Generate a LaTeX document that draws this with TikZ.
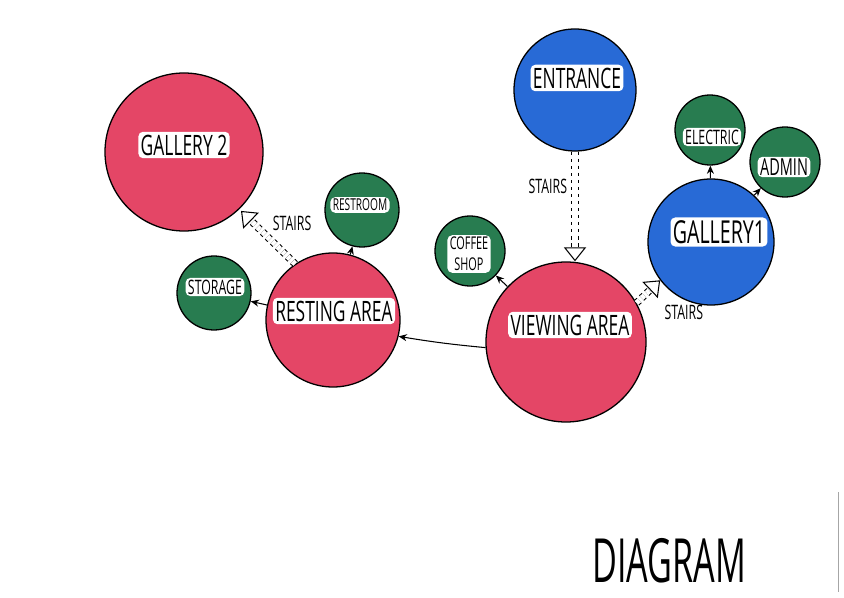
\documentclass[tikz,border=0pt]{standalone}
\usepackage{fontspec}
\newfontfamily\hand[FakeStretch=0.62]{Open Sans}
\newfontfamily\handtall[FakeStretch=0.56]{Open Sans}
\usetikzlibrary{arrows.meta}

\definecolor{roompink}{RGB}{228,70,102}
\definecolor{roomblue}{RGB}{40,106,214}
\definecolor{roomgreen}{RGB}{40,124,80}

\tikzset{
  room/.style={circle, draw=black, line width=1.1pt, fill=#1, inner sep=0pt},
  tag/.style={fill=white, rounded corners=4pt, inner xsep=2pt, inner ysep=2.5pt,
    font=\hand\fontsize{24}{24}\selectfont},
  smalltag/.style={tag, inner ysep=1.5pt, font=\hand\fontsize{17}{15}\selectfont},
  link/.style={-{Stealth[length=7pt,width=6pt]}, line width=0.9pt},
  stairs/.style={dashed, double, double distance=4.5pt, line width=0.9pt,
    -{Triangle[open,length=12pt,width=19pt]}},
  note/.style={font=\hand\fontsize{17}{17}\selectfont}
}

\begin{document}
\begin{tikzpicture}[x=0.03cm, y=-0.03cm]
  \useasboundingbox (0,0) rectangle (844,598);

  % ===== rooms =====
  \node[room=roompink, minimum size=4.74cm] (gal2) at (184,152) {};
  \node[room=roomblue, minimum size=3.66cm] (ent) at (575,90) {};
  \node[room=roomblue, minimum size=3.78cm] (g1) at (711,242) {};
  \node[room=roompink, minimum size=4.02cm] (ra) at (333,320) {};
  \node[room=roompink, minimum size=4.8cm] (va) at (566,342) {};
  % small rooms
  \node[room=roomgreen, minimum size=2.1cm] (ele) at (710,130) {};
  \node[room=roomgreen, minimum size=2.1cm] (adm) at (785,162) {};
  \node[room=roomgreen, minimum size=2.1cm] (cof) at (470,251) {};
  \node[room=roomgreen, minimum size=2.22cm] (rr) at (362,210) {};
  \node[room=roomgreen, minimum size=2.22cm] (sto) at (214,293) {};

  % ===== name bands =====
  \node[tag] (gal2-t) at (184,145) {GALLERY 2};
  \node[tag] (ent-t) at (577,78) {ENTRANCE};
  \node[tag, font=\hand\fontsize{27}{27}\selectfont] (g1-t) at (719,232) {GALLERY1};
  \node[tag] (ra-t) at (334,311) {RESTING AREA};
  \node[tag] (va-t) at (570,325) {VIEWING AREA};
  \node[smalltag] (ele-t) at (712,137) {ELECTRIC};
  \node[smalltag, font=\hand\fontsize{20}{20}\selectfont] (adm-t) at (784,167) {ADMIN};
  \node[smalltag, align=center, font=\hand\fontsize{15}{18}\selectfont] (cof-t) at (469,254) {COFFEE\\SHOP};
  \node[smalltag, font=\hand\fontsize{14}{14}\selectfont] (rr-t) at (360,205) {RESTROOM};
  \node[smalltag] (sto-t) at (215,287) {STORAGE};

  % ===== connections =====
  \draw[link] (ra) -- (rr);
  \draw[link] (ra) -- (sto);
  \draw[link] (va) -- (cof);
  \draw[link] (g1) -- (ele);
  \draw[link] (g1) -- (adm);
  \draw[link] (va.184) to[bend left=2] (ra.-14);

  % stairs
  \draw[stairs, shorten >=2pt] (ra.124) -- (gal2.-46)
    node[note, midway, above right=1pt] (st-ra) {STAIRS};
  \draw[stairs] (ent.south) -- (ent.south |- va.north)
    node[note, pos=0.32, left=3pt] (st-ent) {STAIRS};
  \draw[stairs] (va.29) -- (g1.217)
    node[note, pos=1, anchor=north west, yshift=-17pt] (st-g1) {STAIRS};

  % ===== title =====
  \node[font=\handtall\fontsize{52}{52}\selectfont, inner sep=0pt] (title) at (669,561) {DIAGRAM};
  \draw[gray!70, line width=0.6pt] (838,492) -- (838,592);
\end{tikzpicture}
\end{document}
